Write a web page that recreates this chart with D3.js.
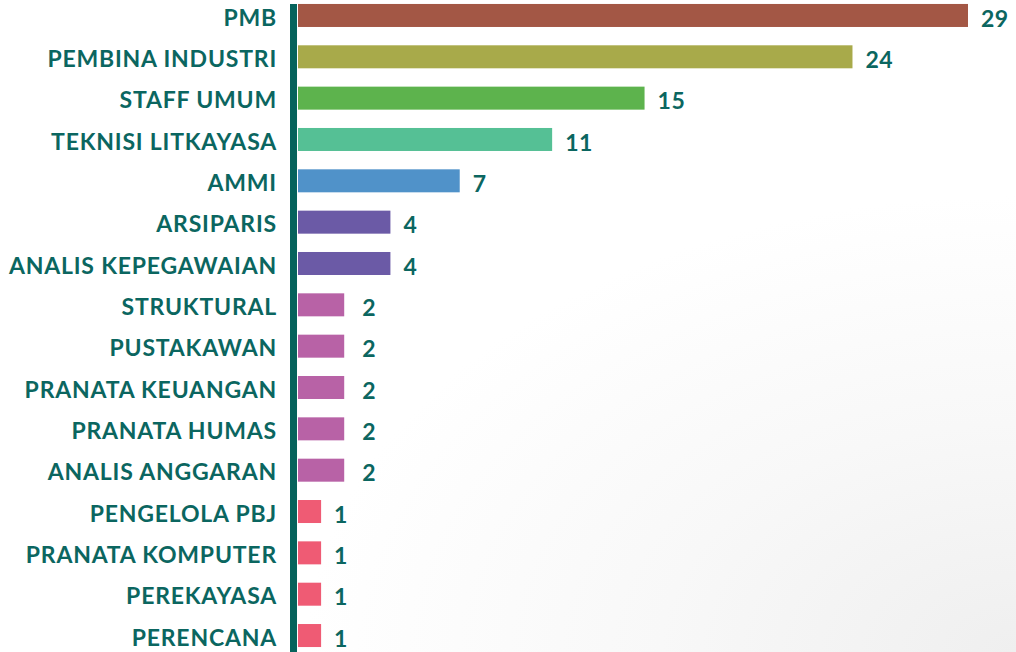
<!DOCTYPE html>
<html>
<head>
<meta charset="utf-8">
<script src="https://cdn.jsdelivr.net/npm/d3@7"></script>
<style>
  html, body { margin: 0; padding: 0; background: #fff; }
  #container { width: 1016px; height: 652px; overflow: hidden; }
</style>
</head>
<body>
<div id="container"></div>
<script>
// Jabatan categories and employee counts
const categories = [
  "PMB", "PEMBINA INDUSTRI", "STAFF UMUM", "TEKNISI LITKAYASA", "AMMI",
  "ARSIPARIS", "ANALIS KEPEGAWAIAN", "STRUKTURAL", "PUSTAKAWAN",
  "PRANATA KEUANGAN", "PRANATA HUMAS", "ANALIS ANGGARAN", "PENGELOLA PBJ",
  "PRANATA KOMPUTER", "PEREKAYASA", "PERENCANA"
];
const counts = [29, 24, 15, 11, 7, 4, 4, 2, 2, 2, 2, 2, 1, 1, 1, 1];
const barColors = [
  "#a35745", "#a8aa4a", "#5db34d", "#55c095", "#5092c9",
  "#6b5aa6", "#6b5aa6", "#b862a6", "#b862a6", "#b862a6",
  "#b862a6", "#b862a6", "#ef5b74", "#ef5b74", "#ef5b74", "#ef5b74"
];

const data = categories.map((c, i) => ({name: c, value: counts[i], color: barColors[i]}));

const W = 1016, H = 652;
const textColor = "#0b6660";

const svg = d3.select("#container")
  .append("svg")
  .attr("width", W)
  .attr("height", H);

// faint watermark-like shading bottom right
const defs = svg.append("defs");
const grad = defs.append("radialGradient")
  .attr("id", "bgshade")
  .attr("cx", "100%").attr("cy", "100%").attr("r", "70%");
grad.append("stop").attr("offset", "0%").attr("stop-color", "#efefef");
grad.append("stop").attr("offset", "50%").attr("stop-color", "#f8f8f8");
grad.append("stop").attr("offset", "100%").attr("stop-color", "#ffffff");
svg.append("rect").attr("width", W).attr("height", H).attr("fill", "url(#bgshade)");

const x = d3.scaleLinear()
  .domain([0, 29])
  .range([298, 968]);

const y = d3.scaleBand()
  .domain(categories)
  .range([-5.2, 656.2])
  .paddingInner(0.4435)
  .paddingOuter(0.4435 / 2);

// bars
svg.append("g")
  .selectAll("rect")
  .data(data)
  .join("rect")
  .attr("x", x(0))
  .attr("y", d => y(d.name))
  .attr("width", d => x(d.value) - x(0))
  .attr("height", y.bandwidth())
  .attr("fill", d => d.color);

// axis line
svg.append("line")
  .attr("x1", 293.5).attr("x2", 293.5)
  .attr("y1", y(categories[0])).attr("y2", H)
  .attr("stroke", "#06635c")
  .attr("stroke-width", 7);

// category labels
svg.append("g")
  .selectAll("text")
  .data(data)
  .join("text")
  .attr("x", 277)
  .attr("y", d => y(d.name) + y.bandwidth() / 2 + 2)
  .attr("dy", "0.35em")
  .attr("text-anchor", "end")
  .style("font-family", "Lato, 'Open Sans', sans-serif")
  .style("font-weight", "700")
  .style("font-size", "23px")
  .style("letter-spacing", "0.8px")
  .style("fill", textColor)
  .text(d => d.name);

// value labels
svg.append("g")
  .selectAll("text")
  .data(data)
  .join("text")
  .attr("x", d => x(d.value) + (d.value === 2 ? 18 : 13))
  .attr("y", d => y(d.name) + y.bandwidth() / 2 + 3)
  .attr("dy", "0.35em")
  .style("font-family", "Lato, 'Open Sans', sans-serif")
  .style("font-weight", "700")
  .style("font-size", "23px")
  .style("letter-spacing", "0.5px")
  .style("fill", textColor)
  .text(d => d.value);
</script>
</body>
</html>
